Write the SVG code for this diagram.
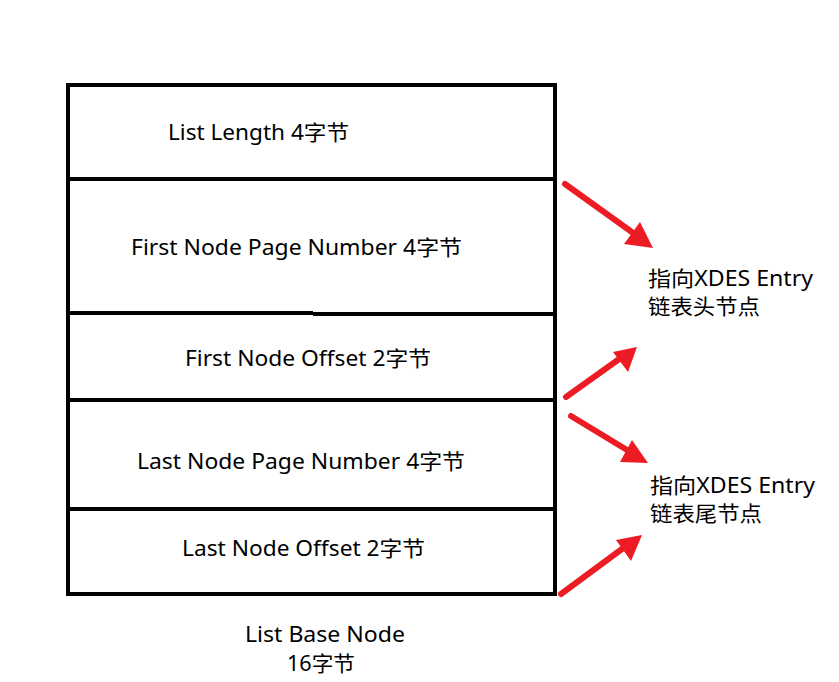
<svg xmlns="http://www.w3.org/2000/svg" width="839" height="682" viewBox="0 0 839 682">
<style>
.box{fill:none;stroke:#000;stroke-width:4}
.ln{stroke:#000;stroke-width:4}
.t{font-family:"Noto Sans","Noto Sans CJK SC",sans-serif;font-size:21px;fill:#000}
.arr{stroke:#ED1C24;stroke-width:6;stroke-linecap:round;fill:none}
.head{fill:#ED1C24}
</style>
<rect width="839" height="682" fill="#fff"/>
<g id="list-base-node">
<rect class="box" x="68" y="85" width="487" height="509"/>
<line class="ln" x1="66" y1="179" x2="557" y2="179"/>
<line class="ln" x1="66" y1="313" x2="313" y2="313"/>
<line class="ln" x1="313" y1="314" x2="557" y2="314"/>
<line class="ln" x1="66" y1="400" x2="557" y2="400"/>
<line class="ln" x1="66" y1="509" x2="557" y2="509"/>
</g>
<g id="list-length"><text class="t" x="168" y="140" textLength="181" lengthAdjust="spacingAndGlyphs">List Length 4字节</text></g>
<g id="first-node-page"><text class="t" x="131" y="255" textLength="331" lengthAdjust="spacingAndGlyphs">First Node Page Number 4字节</text></g>
<g id="first-node-offset"><text class="t" x="185" y="366" textLength="246" lengthAdjust="spacingAndGlyphs">First Node Offset 2字节</text></g>
<g id="last-node-page"><text class="t" x="137" y="469" textLength="328" lengthAdjust="spacingAndGlyphs">Last Node Page Number 4字节</text></g>
<g id="last-node-offset"><text class="t" x="182" y="556" textLength="243" lengthAdjust="spacingAndGlyphs">Last Node Offset 2字节</text></g>
<g id="caption"><text class="t" x="245" y="642" textLength="160" lengthAdjust="spacingAndGlyphs">List Base Node</text><text class="t" x="287" y="671" textLength="68" lengthAdjust="spacingAndGlyphs">16字节</text></g>
<g id="head-label"><text class="t" x="648" y="286" textLength="165" lengthAdjust="spacingAndGlyphs">指向XDES Entry</text><text class="t" x="648" y="314" textLength="112" lengthAdjust="spacingAndGlyphs">链表头节点</text></g>
<g id="tail-label"><text class="t" x="650" y="493" textLength="165" lengthAdjust="spacingAndGlyphs">指向XDES Entry</text><text class="t" x="650" y="521" textLength="112" lengthAdjust="spacingAndGlyphs">链表尾节点</text></g>
<g id="connectors">
<line class="arr" x1="565" y1="184" x2="636" y2="235"/>
<polygon class="head" points="653,248 624,244 640,222"/>
<line class="arr" x1="566" y1="397" x2="622" y2="357"/>
<polygon class="head" points="637,347 628,372 613,352"/>
<line class="arr" x1="571" y1="416" x2="632" y2="453"/>
<polygon class="head" points="648,463 620,462 632,440"/>
<line class="arr" x1="561" y1="594" x2="626" y2="546"/>
<polygon class="head" points="642,535 631,561 616,540"/>
</g>
</svg>
